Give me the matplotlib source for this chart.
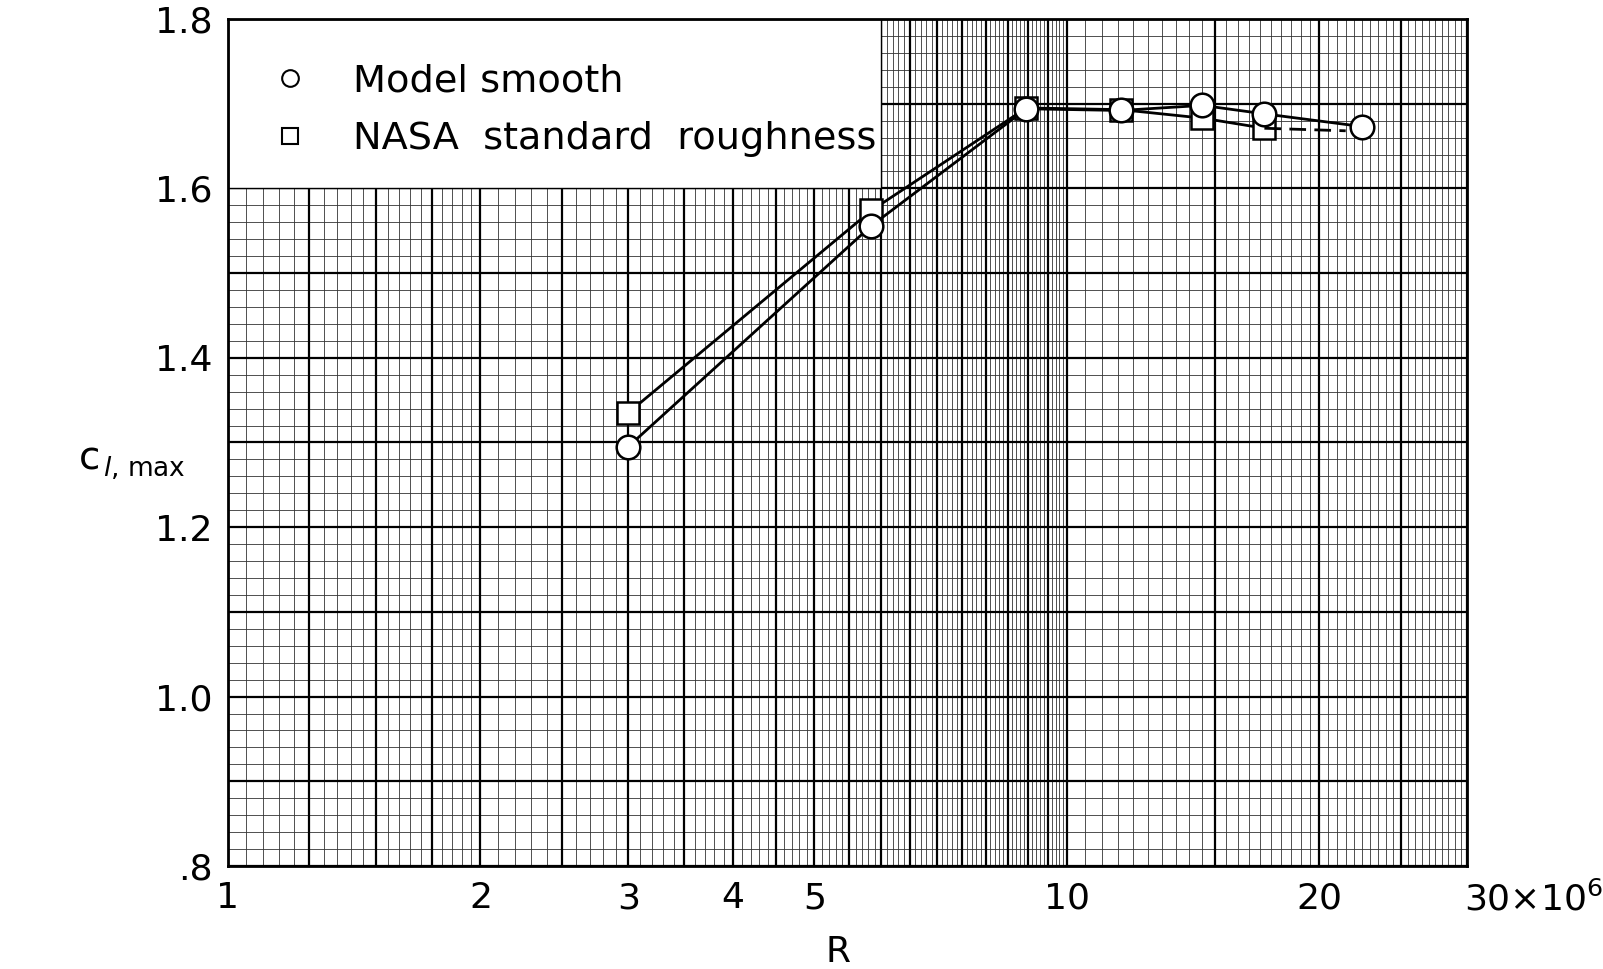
import numpy as np
import matplotlib
matplotlib.use("Agg")
from matplotlib import pyplot as plt
from matplotlib.lines import Line2D
from matplotlib.patches import Rectangle

# Reynolds number (millions) against section maximum lift coefficient
R_smooth = [3.0, 5.85, 8.95, 11.6, 14.5, 17.2, 22.5]
cl_smooth = [1.295, 1.556, 1.694, 1.692, 1.698, 1.688, 1.673]

R_rough = [3.0, 5.85, 8.95, 11.6, 14.5, 17.2]
cl_rough = [1.335, 1.574, 1.695, 1.693, 1.683, 1.671]

# faired continuation of the roughness curve past the last test point
R_rough_fair = [17.2, 21.5]
cl_rough_fair = [1.671, 1.668]

x_ticks = [1, 2, 3, 4, 5, 10, 20]
x_tick_labels = ["1", "2", "3", "4", "5", "10", "20"]
y_ticks = [0.8, 1.0, 1.2, 1.4, 1.6, 1.8]
y_tick_labels = [".8", "1.0", "1.2", "1.4", "1.6", "1.8"]

plt.rcParams["font.family"] = ["DejaVu Sans"]
plt.rcParams["mathtext.fontset"] = "dejavusans"

fig = plt.figure(figsize=(16.03, 9.69), dpi=100)
ax = fig.add_axes([0.1422, 0.1063, 0.7730, 0.8741])
ax.set_xscale("log")
ax.set_xlim(1, 30)
ax.set_ylim(0.8, 1.8)


def graph_paper(ax):
    """Semi-log ruling: fine lines plus heavier guide lines."""
    fine_x = np.concatenate([np.arange(1, 2, 0.05), np.arange(2, 10, 0.1),
                             np.arange(10, 30.01, 0.5)])
    heavy_x = np.concatenate([np.arange(1, 2, 0.25), np.arange(2, 10, 0.5),
                              np.arange(10, 30.01, 5)])
    fine_y = np.arange(0.8, 1.8001, 0.02)
    heavy_y = np.arange(0.8, 1.8001, 0.1)
    ax.vlines(fine_x, 0.8, 1.8, colors="0.2", lw=0.6, zorder=1)
    ax.hlines(fine_y, 1, 30, colors="0.2", lw=0.6, zorder=1)
    ax.vlines(heavy_x, 0.8, 1.8, colors="k", lw=1.6, zorder=1.2)
    ax.hlines(heavy_y, 1, 30, colors="k", lw=1.6, zorder=1.2)


graph_paper(ax)

# blank panel for the key in the upper-left corner
ax.add_patch(Rectangle((1, 1.6), 5, 0.2, facecolor="white", edgecolor="k",
                       lw=1.0, zorder=2))

ax.plot(R_smooth, cl_smooth, color="k", lw=2.0, marker="o", ms=17,
        mfc="white", mec="k", mew=1.8, zorder=4)
ax.plot(R_rough, cl_rough, color="k", lw=2.0, marker="s", ms=16,
        mfc="white", mec="k", mew=1.8, zorder=3)
ax.plot(R_rough_fair, cl_rough_fair, color="k", lw=2.0, ls=(0, (6, 3)),
        zorder=3)

handles = [
    Line2D([], [], ls="none", marker="o", ms=12, mfc="white", mec="k", mew=1.5),
    Line2D([], [], ls="none", marker="s", ms=11, mfc="white", mec="k", mew=1.5),
]
leg = ax.legend(handles, ["Model smooth", "NASA  standard  roughness"],
                loc="upper left", bbox_to_anchor=(0.041, 0.948), frameon=False,
                fontsize=27.5, handlelength=0.6, handletextpad=1.35,
                labelspacing=0.58, borderpad=0, borderaxespad=0)
leg.set_zorder(5)

for s in ax.spines.values():
    s.set_linewidth(2.0)
    s.set_zorder(6)

ax.set_xticks(x_ticks)
ax.set_xticklabels(x_tick_labels)
ax.xaxis.set_minor_locator(matplotlib.ticker.NullLocator())
ax.set_yticks(y_ticks)
ax.set_yticklabels(y_tick_labels)
ax.tick_params(axis="both", length=0, labelsize=26)
ax.tick_params(axis="x", pad=11)
ax.tick_params(axis="y", pad=11)

# last axis label carries the scale factor
ax.annotate(r"30$\times$10$^6$", xy=(30, 0.8), xycoords="data",
            xytext=(-2, -11), textcoords="offset points",
            ha="left", va="top", fontsize=26, annotation_clip=False)

fig.text(0.523, 0.018, "R", fontsize=26, ha="center", va="center")
fig.text(0.049, 0.527, "c", fontsize=28, ha="left", va="center")
fig.text(0.064, 0.516, r"$l$, max", fontsize=19, ha="left", va="center")

fig.savefig("out.png", dpi=100)
